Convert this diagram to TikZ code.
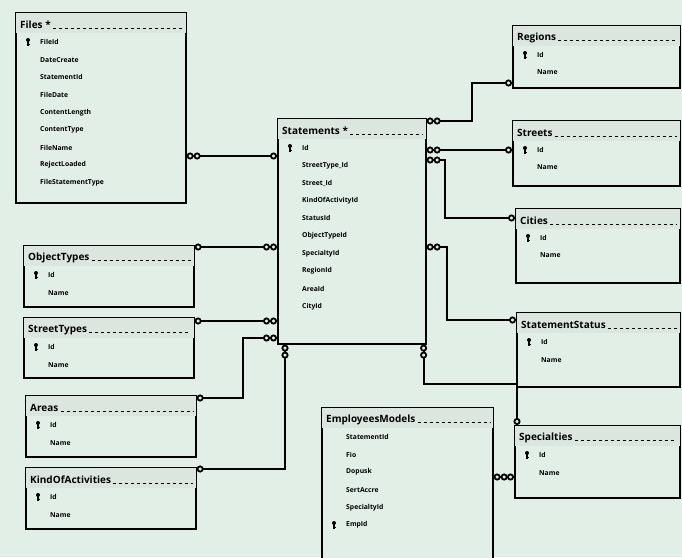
\documentclass[tikz,border=0pt]{standalone}
\usepackage{fontspec}
\setmainfont{Open Sans}
\usetikzlibrary{arrows.meta}

\definecolor{bg}{RGB}{226,239,230}
\definecolor{headfill}{RGB}{218,230,222}

\tikzset{
  tbl/.style = {draw, line width=1.6pt, fill=bg, anchor=north west, inner sep=0pt},
  ttl/.style = {anchor=west, inner sep=0pt, font=\bfseries\fontsize{10}{12}\selectfont},
  fld/.style = {anchor=west, inner sep=0pt, font=\bfseries\fontsize{6.8}{8}\selectfont},
  titlerule/.style = {line width=0.8pt, dashed, shorten >=4pt},
  rel/.style = {line width=1.8pt},
  keytip/.tip = {Circle[open, fill=bg, length=7pt, width=7pt]},
  inftip/.tip = {Circle[open, fill=bg, length=7pt, width=7pt] Circle[open, fill=bg, length=7pt, width=7pt]},
  pkey/.pic = {
    \fill (0,2pt) circle (2pt);
    \draw[line width=1.3pt] (0,1pt) -- (0,-3.8pt);
    \draw[line width=1pt] (0,-2.8pt) -- (1.6pt,-2.8pt);
  }
}

% name, x, y, width, height, title, fields, key field
\newcommand{\dbtable}[8]{%
  \node[tbl, minimum width=#4pt, minimum height=#5pt] (#1) at (#2,#3) {};
  \fill[headfill] ([shift={(1pt,-1pt)}]#1.north west) rectangle ([shift={(-1pt,-21pt)}]#1.north east);
  \node[ttl] (#1-t) at ([shift={(5pt,-13pt)}]#1.north west) {#6};
  \draw[titlerule] ([xshift=2pt]#1-t.base east) -- (#1-t.base east -| #1.east);
  \foreach \f [count=\i] in {#7}
    \node[fld] (#1-\i) at ([shift={(25pt,{-30pt-(\i-1)*17.6pt})}]#1.north west) {\f};
  \pic at ([xshift=-12pt]#1-#8.west) {pkey};
}

\begin{document}
\begin{tikzpicture}[x=1pt, y=-1pt]
  \path[use as bounding box] (0,0) rectangle (682,557);
  \clip (0,0) rectangle (682,557);
  \fill[bg] (0,0) rectangle (682,557);

  % tables on the left
  \dbtable{files}{15}{12}{170}{190}{Files *}{FileId, DateCreate, StatementId, FileDate, ContentLength, ContentType, FileName, RejectLoaded, FileStatementType}{1}
  \dbtable{objtypes}{23}{245}{170}{61}{ObjectTypes}{Id, Name}{1}
  \dbtable{sttypes}{23}{317}{170}{60}{StreetTypes}{Id, Name}{1}
  \dbtable{areas}{25}{395}{170}{61}{Areas}{Id, Name}{1}
  \dbtable{kinds}{25}{467}{170}{61}{KindOfActivities}{Id, Name}{1}

  % main table
  \dbtable{stmt}{277}{118}{148}{225}{Statements *}{Id, StreetType\_Id, Street\_Id, KindOfActivityId, StatusId, ObjectTypeId, SpecialtyId, RegionId, AreaId, CityId}{1}
  \dbtable{emp}{321}{407}{171}{170}{EmployeesModels}{StatementId, Fio, Dopusk, SertAccre, SpecialtyId, EmpId}{6}

  % tables on the right
  \dbtable{regions}{512}{25}{167}{62}{Regions}{Id, Name}{1}
  \dbtable{streets}{512}{120}{167}{65}{Streets}{Id, Name}{1}
  \dbtable{cities}{515}{208}{164}{74}{Cities}{Id, Name}{1}
  \dbtable{status}{516}{312}{163}{74}{StatementStatus}{Id, Name}{1}
  \dbtable{spec}{514}{425}{165}{72}{Specialties}{Id, Name}{1}

  % relations
  \draw[rel, {inftip}-{keytip}] (files.east |- 0,156) -- (stmt.west |- 0,156);
  \draw[rel, {keytip}-{inftip}] (objtypes.east |- 0,247) -- (stmt.west |- 0,247);
  \draw[rel, {keytip}-{inftip}] (sttypes.east |- 0,321) -- (stmt.west |- 0,321);
  \draw[rel, {keytip}-{inftip}] (areas.east |- 0,398) -- (243,398) -- (243,338) -- (stmt.west |- 0,338);
  \draw[rel, {keytip}-{inftip}] (kinds.east |- 0,469) -| ([xshift=8pt]stmt.south west);

  \draw[rel, {inftip}-{keytip}] (stmt.east |- 0,121) -- (472,121) -- (472,83) -- (regions.west |- 0,83);
  \draw[rel, {inftip}-{keytip}] (stmt.east |- 0,150) -- (streets.west |- 0,150);
  \draw[rel, {inftip}-{keytip}] (stmt.east |- 0,160) -- (445,160) -- (445,218) -- (cities.west |- 0,218);
  \draw[rel, {inftip}-{keytip}] (stmt.east |- 0,247) -- (447,247) -- (447,320) -- (status.west |- 0,320);
  \draw[rel, {inftip}-{keytip}] ([xshift=-3pt]stmt.south east) -- ++(0,39) -| ([xshift=3pt]spec.north west);
  \draw[rel, {inftip}-{keytip}] (emp.east |- 0,477) -- (spec.west |- 0,477);
\end{tikzpicture}
\end{document}
